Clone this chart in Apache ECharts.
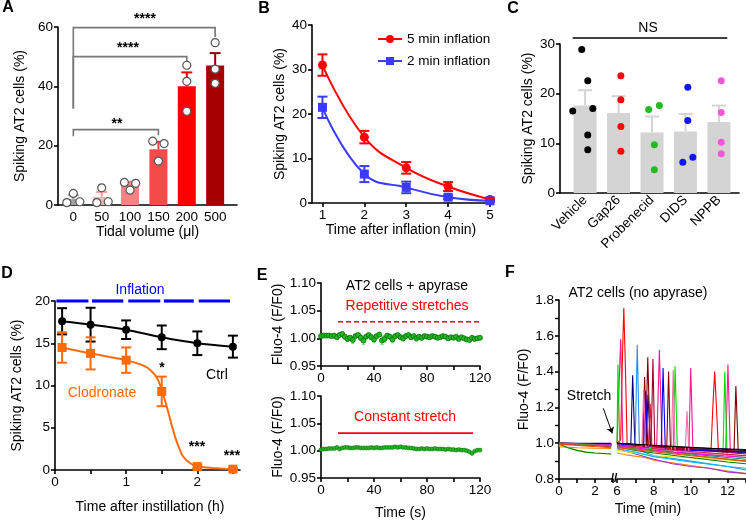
<!DOCTYPE html>
<html><head><meta charset="utf-8">
<script src="https://cdn.jsdelivr.net/npm/echarts@6/dist/echarts.min.js"></script>
<style>html,body{margin:0;padding:0;background:#fff}#c{width:746px;height:521px}</style>
</head><body><div id="c"></div>
<script>
// ---------- Panel A ----------
const aCategories = ['0','50','100','150','200','500'];
const aMeans = [2.0, 2.7, 7.3, 18.8, 40.0, 47.0];
const aErrTop = [3.3, 4.4, 7.8, 21.3, 44.7, 51.2];
const aPoints = [[-0.23,0.8],[0,3.9],[0.23,1.1],[0.83,0.8],[1,5.8],[1.23,1.1],[1.8,7.6],[2,5.0],[2.2,7.3],[2.8,21.5],[3,14.8],[3.2,20.7],[4,47.1],[4,41.7],[4,31.6],[5,54.7],[5,45.8],[5,41.0]];
const aBrackets = [[0,3,23.2,25.4,23.5],[0,4,32.5,50,47],[0,5,32.5,59.8,56.6]];
// ---------- Panel B ----------
const bX = [1,2,3,4,5];
const b5Mean = [31.0, 14.8, 7.9, 3.7, 0.8];
const b5Err = [2.4, 1.4, 1.3, 1.0, 0.3];
const b2Mean = [21.5, 6.5, 3.5, 1.3, 0.5];
const b2Err = [2.4, 1.8, 1.3, 0.4, 0.2];
// ---------- Panel C ----------
const cCategories = ['Vehicle','Gap26','Probenecid','DIDS','NPPB'];
const cMeans = [17.6, 16.1, 12.2, 12.4, 14.3];
const cErrTop = [20.7, 19.5, 15.4, 15.9, 17.6];
const cPoints = [
  [[-0.1,28.9],[0.08,22.6],[-0.37,16.5],[0.23,17.0],[0.08,11.7],[0.08,8.7]],
  [[1.07,23.6],[1.07,18.8],[1.07,13.4],[1.07,8.4]],
  [[1.9,16.8],[2.22,17.6],[2.07,9.7],[2.07,4.7]],
  [[3.07,21.3],[3.07,14.6],[2.92,6.2],[3.22,7.2]],
  [[4.07,22.6],[4.07,16.2],[4.07,10.2],[4.07,7.9]]
];
const cNsLine = [-0.37, 4.25, 31.2];
// ---------- Panel D ----------
const dX = [0.1, 0.5, 1, 1.5, 2, 2.5];
const dCtrl = [17.6, 17.2, 16.6, 15.7, 15.0, 14.6];
const dCtrlErr = [1.55, 2.0, 1.1, 1.4, 1.4, 1.3];
const dClod = [14.5, 13.8, 13.0, 9.3, 0.4, 0.1];
const dClodErr = [1.8, 1.9, 1.5, 1.75, 0.2, 0.1];
const dCurveX = [0.1,0.3,0.5,0.75,1,1.2,1.3,1.4,1.45,1.5,1.55,1.6,1.65,1.7,1.75,1.8,1.9,2.0,2.2,2.5];
const dCurveY = [14.5,14.15,13.8,13.4,13.0,12.5,12.1,11.3,10.6,9.5,8.1,6.6,5.0,3.6,2.5,1.6,0.8,0.45,0.25,0.1];
const dInflation = [[0.02,0.47],[0.52,0.96],[1.03,1.48],[1.53,1.95],[2.02,2.46]];
const dInflationLevel = 20;
// ---------- Panel E ----------
const eTime = [0,2,4,6,8,10,12,14,16,18,20,22,24,26,28,30,32,34,36,38,40,42,44,46,48,50,52,54,56,58,60,62,64,66,68,70,72,74,76,78,80,82,84,86,88,90,92,94,96,98,100,102,104,106,108,110,112,114,116,118,120];
const eTopVals = [1.004,1.005,1.005,1.005,1.004,1.005,1.002,1.006,1.008,1.003,
  0.999,1.001,0.997,1.004,1.006,1.001,0.996,1.003,1.006,1.002,
  0.998,1.004,1.007,0.996,0.999,1.005,1.003,0.998,1.004,1.006,
  1.002,1.000,1.004,1.006,1.002,1.004,1.000,1.003,1.001,1.004,
  1.003,1.002,1.004,1.003,1.001,1.002,1.004,1.003,1.000,1.002,
  1.001,1.003,0.999,1.002,1.000,0.998,0.997,1.001,0.999,1.000,1.001];
const eTopErr = [0.001,0.001,0.001,0.001,0.001,0.001,0.003,0.002,0.002,0.004,
  0.005,0.003,0.006,0.002,0.003,0.005,0.007,0.003,0.002,0.004,
  0.006,0.003,0.002,0.007,0.006,0.003,0.004,0.006,0.003,0.002,
  0.004,0.005,0.003,0.002,0.004,0.003,0.005,0.003,0.004,0.002,
  0.002,0.003,0.002,0.002,0.003,0.002,0.002,0.002,0.003,0.002,
  0.002,0.002,0.003,0.002,0.002,0.003,0.003,0.002,0.002,0.002,0.001];
const eBotVals = [1.002,1.003,1.003,1.004,1.004,1.004,1.006,1.003,1.005,1.006,
  1.006,1.005,1.005,1.006,1.006,1.005,1.005,1.005,1.005,1.006,
  1.005,1.006,1.005,1.005,1.006,1.006,1.006,1.006,1.007,1.006,
  1.007,1.006,1.006,1.005,1.005,1.004,1.003,1.003,1.004,1.003,
  1.004,1.003,1.003,1.004,1.003,1.003,1.003,1.002,1.003,1.002,
  1.002,1.001,1.002,1.001,1.001,1.000,0.998,0.995,0.999,1.001,1.001];
const eRepLine = [12.8, 120, 1.03];
const eConstLine = [12.8, 114.7, 1.032];
// ---------- Panel F ----------
const fColors = ['#ff0000','#ff1493','#00dd00','#000080','#1e90ff','#8b0000','#800000','#a0002a','#0000ff','#ff69b4','#ff8000','#9932cc','#e6e600','#008000','#00bfff','#000000','#008b8b','#dc143c','#ff00ff','#6b8e23','#ff4500'];
const fPre = [
  [[0,1.0],[0.5,0.995],[1.5,0.99],[2.9,0.985]],
  [[0,1.0],[2.9,0.99]],
  [[0,1.0],[2.9,0.985]],
  [[0,1.0],[2.9,1.0]],
  [[0,1.0],[2.9,0.995]],
  [[0,1.0],[2.9,0.995]],
  [[0,1.0],[2.9,0.99]],
  [[0,1.0],[2.9,0.985]],
  [[0,1.0],[2.9,0.995]],
  [[0,1.0],[2.9,0.99]],
  [[0,0.98],[1,0.975],[2,0.972],[2.9,0.97]],
  [[0,1.0],[2.9,0.99]],
  [[0,0.99],[0.5,0.975],[1,0.96],[1.5,0.95],[2,0.945],[2.9,0.94]],
  [[0,0.995],[0.5,0.975],[1,0.96],[1.5,0.95],[2,0.945],[2.9,0.94]],
  [[0,1.0],[2.9,0.99]],
  [[0,1.0],[2.9,0.995]],
  [[0,1.0],[2.9,0.99]],
  [[0,1.0],[2.9,0.98]],
  [[0,1.0],[2.9,0.99]],
  [[0,1.0],[2.9,0.985]],
  [[0,0.995],[2.9,0.975]]
];
const fPost = [
  [[6,1.0],[6.2,1.02],[6.3,1.5],[6.37,1.755],[6.45,1.45],[6.55,1.0],[7,0.985],[8,0.975],[9,0.97],[10,0.965],[11.1,0.96],[11.2,1.2],[11.3,1.40],[11.42,1.15],[11.5,0.96],[12.2,0.955],[13,0.95]],
  [[6,0.995],[6.1,1.0],[6.2,1.58],[6.32,0.99],[8.15,0.975],[8.3,1.52],[8.45,0.97],[9.9,0.96],[10.0,1.42],[10.12,0.96],[11.9,0.955],[12.02,1.44],[12.15,0.95],[13,0.945]],
  [[6,1.0],[6.05,1.44],[6.15,0.99],[7,0.98],[9.05,0.955],[9.15,1.43],[9.28,0.95],[11.75,0.93],[11.85,1.40],[11.97,0.93],[13,0.92]],
  [[6,1.0],[6.75,0.995],[6.85,1.38],[6.97,0.99],[7.58,0.99],[7.68,1.27],[7.82,0.985],[10,0.975],[13,0.965]],
  [[6,0.99],[6.98,0.975],[7.1,1.55],[7.22,0.96],[8,0.93],[10,0.9],[12,0.87],[13,0.85]],
  [[6,0.99],[7.4,0.985],[7.5,1.37],[7.6,0.99],[8.7,0.975],[8.8,1.40],[8.9,0.97],[13,0.955]],
  [[6,1.0],[7.55,0.99],[7.67,1.48],[7.8,0.985],[12.35,0.955],[12.45,1.32],[12.58,0.95],[13,0.95]],
  [[6,0.99],[7.85,0.98],[7.95,1.47],[8.05,0.98],[13,0.94]],
  [[6,0.995],[7.45,0.985],[7.55,1.29],[7.62,1.1],[7.68,0.98],[8.4,0.97],[8.5,1.42],[8.62,0.965],[13,0.95]],
  [[6,0.99],[7.35,0.98],[7.45,1.30],[7.55,0.98],[8.95,0.96],[9.05,1.41],[9.15,0.96],[9.7,0.95],[9.8,1.18],[9.9,0.95],[13,0.93]],
  [[6,0.945],[6.5,0.935],[7.5,0.92],[8,0.905],[9,0.89],[10,0.875],[11,0.86],[12,0.845],[13,0.83]],
  [[6,0.97],[7,0.94],[8,0.91],[9,0.885],[10,0.87],[11,0.86],[12,0.84],[13,0.83]],
  [[6,0.96],[8,0.93],[13,0.9]],
  [[6,0.98],[7,0.96],[8,0.945],[10,0.92],[12,0.895],[13,0.885]],
  [[6,0.97],[7,0.95],[8,0.925],[10,0.895],[12,0.87],[13,0.86]],
  [[6,1.0],[13,0.96]],
  [[6,0.985],[8,0.96],[10,0.94],[13,0.91]],
  [[6,0.99],[7.7,0.975],[7.8,1.22],[7.9,0.97],[13,0.93]],
  [[6,0.985],[9,0.95],[13,0.92]],
  [[6,0.98],[13,0.9]],
  [[6,0.975],[10,0.93],[13,0.9]]
];
const fStretchArrow = [[2.46,1.195],[2.96,1.055]];

// ---------- chart ----------
const FONT = 'Liberation Sans';
function merge(a,b){const o=Object.assign({},a);for(const k in b){const v=b[k];if(v&&typeof v==='object'&&!Array.isArray(v)&&a[k]&&typeof a[k]==='object'&&!Array.isArray(a[k]))o[k]=merge(a[k],v);else o[k]=v;}return o;}
const BASE_AXIS = {
  axisLine:{show:true,onZero:false,lineStyle:{color:'#000',width:1.6}},
  axisTick:{show:true,inside:false,length:4,lineStyle:{color:'#000',width:1.6}},
  axisLabel:{color:'#000',fontSize:13.5,fontFamily:FONT,margin:5},
  splitLine:{show:false},
  nameLocation:'middle',
  nameTextStyle:{color:'#000',fontSize:14,fontFamily:FONT}
};
const ax = e => merge(BASE_AXIS, e);

const grids = [
  {left:58, top:27, width:179, height:178},
  {left:312, top:25, width:178, height:178},
  {left:560, top:44, width:179, height:149},
  {left:55, top:301, width:185, height:169},
  {left:321, top:283, width:159, height:83},
  {left:321, top:396, width:159, height:82},
  {left:559, top:300, width:54, height:179},
  {left:617, top:300, width:129, height:179}
];

const xAxes = [
  ax({type:'value',gridIndex:0,min:-0.54,max:5.77,axisTick:{show:false},axisLabel:{customValues:[0,1,2,3,4,5],formatter:v=>aCategories[Math.round(v)]},name:'Tidal volume (μl)',nameGap:16}),
  ax({type:'value',gridIndex:1,min:0.75,max:5,axisTick:{customValues:bX},axisLabel:{customValues:bX},name:'Time after inflation (min)',nameGap:17}),
  ax({type:'value',gridIndex:2,min:-0.75,max:4.6,axisTick:{show:false},axisLabel:{customValues:[0,1,2,3,4],rotate:45,formatter:v=>cCategories[Math.round(v)]}}),
  ax({type:'value',gridIndex:3,min:0,max:2.6,axisTick:{customValues:[0,0.5,1,1.5,2,2.5]},axisLabel:{customValues:[0,1,2]}}),
  ax({type:'value',gridIndex:4,min:0,max:120,axisTick:{customValues:[0,20,40,60,80,100,120]},axisLabel:{customValues:[0,40,80,120]}}),
  ax({type:'value',gridIndex:5,min:0,max:120,axisTick:{customValues:[0,20,40,60,80,100,120]},axisLabel:{customValues:[0,40,80,120]},name:'Time (s)',nameGap:28}),
  ax({type:'value',gridIndex:6,min:0,max:3,axisTick:{customValues:[0,1,2,3]},axisLabel:{customValues:[0,2]}}),
  ax({type:'value',gridIndex:7,min:6,max:13,axisTick:{customValues:[6,7,8,9,10,11,12,13]},axisLabel:{customValues:[6,8,10,12]}})
];
const yAxes = [
  ax({type:'value',gridIndex:0,min:0,max:60,interval:20,name:'Spiking AT2 cells (%)',nameGap:31}),
  ax({type:'value',gridIndex:1,min:0,max:40,interval:10,name:'Spiking AT2 cells (%)',nameGap:25}),
  ax({type:'value',gridIndex:2,min:0,max:30,interval:10,name:'Spiking AT2 cells (%)',nameGap:25}),
  ax({type:'value',gridIndex:3,min:0,max:20,interval:5,name:'Spiking AT2 cells (%)',nameGap:31}),
  ax({type:'value',gridIndex:4,min:0.95,max:1.10,interval:0.05,axisLabel:{color:'#000',formatter:v=>v.toFixed(2)},name:'Fluo-4 (F/F0)',nameGap:36}),
  ax({type:'value',gridIndex:5,min:0.95,max:1.10,interval:0.05,axisLabel:{color:'#000',formatter:v=>v.toFixed(2)},name:'Fluo-4 (F/F0)',nameGap:36}),
  ax({type:'value',gridIndex:6,min:0.8,max:1.8,interval:0.2,minorTick:{show:true,splitNumber:2,length:4,lineStyle:{color:'#000',width:1.4}},axisLabel:{color:'#000',formatter:v=>v.toFixed(1)},name:'Fluo-4 (F/F0)',nameGap:28}),
  ax({type:'value',gridIndex:7,min:0.8,max:1.8,interval:0.2,show:false})
];

function errSeries(g, data, colors, cap, lw, oneSided, z){
  return {type:'custom',xAxisIndex:g,yAxisIndex:g,data,z:z||5,silent:true,clip:false,encode:{x:0,y:[1,2]},
    renderItem:(p,api)=>{
      const x=api.value(0),lo=api.value(1),hi=api.value(2);
      const a=api.coord([x,lo]),b=api.coord([x,hi]);
      const c=Array.isArray(colors)?colors[p.dataIndex]:colors;
      const st={stroke:c,lineWidth:lw};
      const ch=[{type:'line',shape:{x1:a[0],y1:a[1],x2:b[0],y2:b[1]},style:st},
                {type:'line',shape:{x1:b[0]-cap/2,y1:b[1],x2:b[0]+cap/2,y2:b[1]},style:st}];
      if(!oneSided) ch.push({type:'line',shape:{x1:a[0]-cap/2,y1:a[1],x2:a[0]+cap/2,y2:a[1]},style:st});
      return {type:'group',children:ch};
    }};
}
function segSeries(g, data, color, lw, dash, z){
  return {type:'custom',xAxisIndex:g,yAxisIndex:g,data,z:z||4,silent:true,clip:false,encode:{x:[0,1],y:2},
    renderItem:(p,api)=>{
      const a=api.coord([api.value(0),api.value(2)]),b=api.coord([api.value(1),api.value(2)]);
      return {type:'line',shape:{x1:a[0],y1:a[1],x2:b[0],y2:b[1]},style:{stroke:color,lineWidth:lw,lineDash:dash||null}};
    }};
}

const aColors = ['#a3a3a3','#fbb5b5','#f98383','#f54a4a','#ff0000','#a60000'];
const aErrColors = ['#9a9a9a','#f7a3a3','#f57575','#ee3d3d','#f00000','#990000'];
const cPointColors = ['#000000','#ff0000','#22bb22','#1414ff','#ff55dd'];

const series = [];
// A
series.push({type:'bar',xAxisIndex:0,yAxisIndex:0,barWidth:18,data:aMeans.map((v,i)=>({value:[i,v],itemStyle:{color:aColors[i]}})),z:2});
series.push(errSeries(0, aMeans.map((v,i)=>[i,v,aErrTop[i]]), aErrColors, 11, 2, true, 3));
series.push({type:'scatter',xAxisIndex:0,yAxisIndex:0,data:aPoints,symbol:'circle',symbolSize:8,itemStyle:{color:'#fff',borderColor:'#555',borderWidth:1.2,opacity:1},z:6});
series.push({type:'custom',xAxisIndex:0,yAxisIndex:0,data:aBrackets,silent:true,clip:false,z:4,encode:{x:[0,1],y:[2,3,4]},
  renderItem:(p,api)=>{
    const p1=api.coord([api.value(0),api.value(2)]),p2=api.coord([api.value(0),api.value(3)]),p3=api.coord([api.value(1),api.value(3)]),p4=api.coord([api.value(1),api.value(4)]);
    return {type:'polyline',shape:{points:[p1,p2,p3,p4]},style:{stroke:'#777',lineWidth:1.6,fill:'none'}};
  }});
// B
series.push({name:'5 min inflation',type:'line',xAxisIndex:1,yAxisIndex:1,data:bX.map((x,i)=>[x,b5Mean[i]]),smooth:0.45,symbol:'circle',symbolSize:9,color:'#ff0000',lineStyle:{width:2,color:'#ff0000'},itemStyle:{color:'#ff0000'},z:4});
series.push({name:'2 min inflation',type:'line',xAxisIndex:1,yAxisIndex:1,data:bX.map((x,i)=>[x,b2Mean[i]]),smooth:0.45,symbol:'rect',symbolSize:9,color:'#3b3bff',lineStyle:{width:2,color:'#3b3bff'},itemStyle:{color:'#3b3bff'},z:4});
series.push(errSeries(1, bX.map((x,i)=>[x,b5Mean[i]-b5Err[i],b5Mean[i]+b5Err[i]]), '#ff0000', 10, 2, false, 5));
series.push(errSeries(1, bX.map((x,i)=>[x,b2Mean[i]-b2Err[i],b2Mean[i]+b2Err[i]]), '#3b3bff', 10, 2, false, 5));
// C
series.push({type:'bar',xAxisIndex:2,yAxisIndex:2,barWidth:23,data:cMeans.map((v,i)=>[i,v]),itemStyle:{color:'#d4d4d4'},z:2});
series.push(errSeries(2, cMeans.map((v,i)=>[i,v,cErrTop[i]]), '#d4d4d4', 14, 2, true, 3));
cPoints.forEach((pts,i)=>series.push({type:'scatter',xAxisIndex:2,yAxisIndex:2,data:pts,symbolSize:7,itemStyle:{color:cPointColors[i],opacity:1},z:6}));
series.push(segSeries(2, [cNsLine], '#000', 1.6));
// D
series.push(segSeries(3, dInflation.map(s=>[s[0],s[1],dInflationLevel]), '#0000ff', 3.2));
series.push({type:'line',xAxisIndex:3,yAxisIndex:3,data:dX.map((x,i)=>[x,dCtrl[i]]),smooth:0.3,symbol:'circle',symbolSize:8,lineStyle:{width:2,color:'#000'},itemStyle:{color:'#000'},z:4});
series.push({type:'line',xAxisIndex:3,yAxisIndex:3,data:dCurveX.map((x,i)=>[x,dCurveY[i]]),smooth:0.3,symbol:'none',lineStyle:{width:2,color:'#ff6a0d'},z:4});
series.push({type:'scatter',xAxisIndex:3,yAxisIndex:3,data:dX.map((x,i)=>[x,dClod[i]]),symbol:'rect',symbolSize:9,itemStyle:{color:'#ff6a0d',opacity:1},z:5});
series.push(errSeries(3, dX.map((x,i)=>[x,dCtrl[i]-dCtrlErr[i],dCtrl[i]+dCtrlErr[i]]), '#000', 10, 2, false, 5));
series.push(errSeries(3, dX.map((x,i)=>[x,dClod[i]-dClodErr[i],dClod[i]+dClodErr[i]]), '#ff6a0d', 10, 2, false, 5));
// E
series.push(errSeries(4, eTime.map((t,i)=>[t,eTopVals[i]-eTopErr[i],eTopVals[i]+eTopErr[i]]), '#66dd66', 3, 1, false, 3));
series.push({type:'scatter',xAxisIndex:4,yAxisIndex:4,data:eTime.map((t,i)=>[t,eTopVals[i]]),symbolSize:5,itemStyle:{color:'#22b822',borderColor:'#0a6e0a',borderWidth:0.8,opacity:1},z:5});
series.push(segSeries(4, [eRepLine], '#ff0000', 1.6, [5,3]));
series.push({type:'line',xAxisIndex:5,yAxisIndex:5,data:eTime.map((t,i)=>[t,eBotVals[i]]),symbol:'circle',symbolSize:4,showSymbol:true,lineStyle:{width:1.5,color:'#0a7a0a'},itemStyle:{color:'#22b822',borderColor:'#0a6e0a',borderWidth:0.6},z:5});
series.push(segSeries(5, [eConstLine], '#ff0000', 1.6));
// F
fPre.forEach((pts,i)=>series.push({type:'line',xAxisIndex:6,yAxisIndex:6,data:pts,symbol:'none',lineStyle:{width:1.1,color:fColors[i]},z:2}));
fPost.forEach((pts,i)=>series.push({type:'line',xAxisIndex:7,yAxisIndex:7,data:pts,symbol:'none',lineStyle:{width:1.1,color:fColors[i]},z:2}));
series.push({type:'line',xAxisIndex:6,yAxisIndex:6,data:[],symbol:'none',
  markLine:{silent:true,symbol:['none','arrow'],symbolSize:6,label:{show:false},lineStyle:{color:'#000',width:1,type:'solid'},
    data:[[{coord:fStretchArrow[0]},{coord:fStretchArrow[1]}]]}});

const T = (text,x,y,opt)=>({type:'text',silent:true,style:Object.assign({text,x,y,align:'center',verticalAlign:'middle',font:'14px "Liberation Sans"',fill:'#000'},opt||{})});
const L = (text,x,y)=>T(text,x,y,{font:'bold 16px "Liberation Sans"'});
const graphics = [
  L('A',8,8), L('B',264,9), L('C',513,9), L('D',7,274), L('E',262,276), L('F',510,273),
  T('****',145,19,{font:'bold 14px "Liberation Sans"'}),
  T('****',128,48,{font:'bold 14px "Liberation Sans"'}),
  T('**',117,124,{font:'bold 14px "Liberation Sans"'}),
  T('NS',648,28),
  T('Inflation',140,290,{fill:'#0000ff'}),
  T('*',162,368,{font:'bold 14px "Liberation Sans"'}),
  T('***',197,447,{font:'bold 14px "Liberation Sans"'}),
  T('***',232,456,{font:'bold 14px "Liberation Sans"'}),
  T('Ctrl',217,375),
  T('Clodronate',102,393,{fill:'#ff6a0d'}),
  T('Time after instillation (h)',150,507),
  T('AT2 cells + apyrase',407,286),
  T('Repetitive stretches',407,306,{fill:'#ff0000'}),
  T('Constant stretch',405,417,{fill:'#ff0000'}),
  T('AT2 cells (no apyrase)',638,293),
  T('Stretch',589,396),
  T('Time (min)',648,509),
  T('//',614,479,{font:'bold 12px "Liberation Sans"'})
];

const chart = echarts.init(document.getElementById('c'));
chart.setOption({
  animation:false,
  backgroundColor:'#fff',
  textStyle:{fontFamily:FONT},
  grid:grids, xAxis:xAxes, yAxis:yAxes, series,
  legend:{data:['5 min inflation','2 min inflation'],left:372,top:27,orient:'vertical',itemWidth:24,itemHeight:10,itemGap:8,textStyle:{fontSize:13.5,color:'#000',fontFamily:FONT}},
  graphic:graphics
});
</script></body></html>
